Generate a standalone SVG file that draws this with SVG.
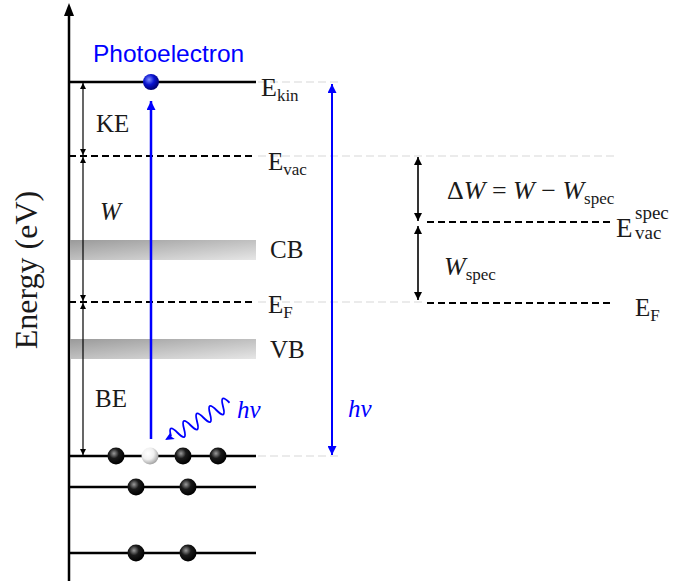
<svg xmlns="http://www.w3.org/2000/svg" width="678" height="585" viewBox="0 0 678 585">
<defs>
<style>
.lvl{stroke:#000;stroke-width:2.5;fill:none}
.dash{stroke:#000;stroke-width:2;stroke-dasharray:7 4;fill:none}
.ghost{stroke:#ebebeb;stroke-width:2;stroke-dasharray:8 4;fill:none}
.thin{stroke:#000;stroke-width:1.2;fill:none}
.blue{stroke:#0000ff;stroke-width:2.5;fill:none}
.t{font-family:"Liberation Serif","Times New Roman",serif;font-size:25px;fill:#1a1a1a}
.sub{font-size:17px}
.it{font-style:italic}
.bt{fill:#0000ff}
</style>
<linearGradient id="band" x1="0" y1="0" x2="1" y2="1">
<stop offset="0" stop-color="#9a9a9a"/>
<stop offset="1" stop-color="#e6e6e6"/>
</linearGradient>
<radialGradient id="blk" cx="0.38" cy="0.35" r="0.65">
<stop offset="0" stop-color="#9a9a9a"/>
<stop offset="0.45" stop-color="#1a1a1a"/>
<stop offset="1" stop-color="#000"/>
</radialGradient>
<radialGradient id="wht" cx="0.38" cy="0.35" r="0.7">
<stop offset="0" stop-color="#fff"/>
<stop offset="0.5" stop-color="#f0f0f0"/>
<stop offset="1" stop-color="#9a9a9a"/>
</radialGradient>
<radialGradient id="blu" cx="0.38" cy="0.35" r="0.65">
<stop offset="0" stop-color="#8090ff"/>
<stop offset="0.5" stop-color="#0a14d0"/>
<stop offset="1" stop-color="#000070"/>
</radialGradient>
<marker id="ak" viewBox="0 0 10 10" refX="10" refY="5" markerWidth="6" markerHeight="6" markerUnits="userSpaceOnUse" orient="auto-start-reverse">
<path d="M0,0 L10,5 L0,10 Z" fill="#000"/>
</marker>
<marker id="ak2" viewBox="0 0 10 10" refX="10" refY="5" markerWidth="8" markerHeight="8" markerUnits="userSpaceOnUse" orient="auto-start-reverse">
<path d="M0,0 L10,5 L0,10 Z" fill="#000"/>
</marker>
<marker id="ab" viewBox="0 0 10 10" refX="10" refY="5" markerWidth="11" markerHeight="9" markerUnits="userSpaceOnUse" orient="auto-start-reverse">
<path d="M0,0 L10,5 L0,10 Z" fill="#0000ff"/>
</marker>
</defs>

<!-- ghost guide lines -->
<g id="guides">
<line class="ghost" x1="258" y1="82" x2="342" y2="82"/>
<line class="ghost" x1="258" y1="156" x2="614" y2="156"/>
<line class="ghost" x1="258" y1="302" x2="424" y2="302"/>
<line class="ghost" x1="258" y1="456" x2="342" y2="456"/>
</g>

<!-- axis -->
<g id="axis">
<line x1="69" y1="14" x2="69" y2="581" stroke="#000" stroke-width="2.5"/>
<path d="M69,3 L74,16 L64,16 Z" fill="#000"/>
<text class="t" transform="translate(37,270) rotate(-90)" text-anchor="middle" style="font-size:32px">Energy (eV)</text>
</g>

<!-- bands -->
<g id="CB"><rect x="70" y="240" width="186" height="20" fill="url(#band)"/><text class="t" x="270" y="258">CB</text></g>
<g id="VB"><rect x="70" y="339" width="186" height="20" fill="url(#band)"/><text class="t" x="270" y="358">VB</text></g>

<!-- levels -->
<g id="Ekin"><line class="lvl" x1="69" y1="82" x2="256" y2="82"/><text class="t" x="261" y="96" style="font-size:26px">E<tspan class="sub" dy="5">kin</tspan></text></g>
<g id="Evac"><line class="dash" x1="69" y1="156" x2="256" y2="156"/><text class="t" x="268" y="170">E<tspan class="sub" dy="5">vac</tspan></text></g>
<g id="EF"><line class="dash" x1="69" y1="302" x2="256" y2="302"/><text class="t" x="268" y="313">E<tspan class="sub" dy="5">F</tspan></text></g>
<g id="core1"><line class="lvl" x1="69" y1="456" x2="256" y2="456"/>
<circle cx="116" cy="456" r="8.5" fill="url(#blk)"/>
<circle cx="150" cy="456" r="8.5" fill="url(#wht)"/>
<circle cx="183" cy="456" r="8.5" fill="url(#blk)"/>
<circle cx="218" cy="456" r="8.5" fill="url(#blk)"/></g>
<g id="core2"><line class="lvl" x1="69" y1="487" x2="256" y2="487"/>
<circle cx="136" cy="487" r="8.5" fill="url(#blk)"/>
<circle cx="188" cy="487" r="8.5" fill="url(#blk)"/></g>
<g id="core3"><line class="lvl" x1="69" y1="553" x2="256" y2="553"/>
<circle cx="136" cy="553" r="8.5" fill="url(#blk)"/>
<circle cx="188" cy="553" r="8.5" fill="url(#blk)"/></g>

<!-- photoelectron -->
<g id="photoelectron"><circle cx="151" cy="82" r="8" fill="url(#blu)"/>
<text x="93" y="62" style="font-family:'Liberation Sans',Arial,sans-serif;font-size:24.5px;fill:#0000ff">Photoelectron</text></g>

<!-- right side levels -->
<g id="Evacspec"><line class="dash" x1="427" y1="222" x2="613" y2="222"/>
<text class="t" x="616" y="237" style="font-size:27px">E</text>
<text class="t" x="635" y="219" style="font-size:19px">spec</text>
<text class="t" x="635" y="239" style="font-size:19px">vac</text></g>
<g id="EFspec"><line class="dash" x1="427" y1="303" x2="613" y2="303"/><text class="t" x="635" y="316">E<tspan class="sub" dy="5">F</tspan></text></g>

<!-- connectors -->
<g id="connectors">
<line class="thin" x1="83" y1="83" x2="83" y2="155" marker-start="url(#ak)" marker-end="url(#ak)"/>
<line class="thin" x1="83" y1="157" x2="83" y2="301" marker-start="url(#ak)" marker-end="url(#ak)"/>
<line class="thin" x1="83" y1="303" x2="83" y2="455" marker-start="url(#ak)" marker-end="url(#ak)"/>
<line x1="418" y1="157" x2="418" y2="221" stroke="#000" stroke-width="1.6" marker-start="url(#ak2)" marker-end="url(#ak2)"/>
<line x1="418" y1="226" x2="418" y2="300" stroke="#000" stroke-width="1.6" marker-start="url(#ak2)" marker-end="url(#ak2)"/>
<line class="blue" x1="151" y1="439" x2="151" y2="101" marker-end="url(#ab)"/>
<line x1="332" y1="84" x2="332" y2="455" stroke="#0000ff" stroke-width="2" marker-start="url(#ab)" marker-end="url(#ab)"/>
<g transform="translate(165,440) rotate(-30)">
<path d="M0,0 L9,-4 L7,0 L9,4 Z" fill="#0000ff"/>
<path d="M7,0 q3.75,-14 7.5,0 t7.5,0 t7.5,0 t7.5,0 t7.5,0 t7.5,0 t7.5,0 t7.5,0 t7.5,0" stroke="#0000ff" stroke-width="1.8" fill="none"/>
</g>
</g>

<!-- labels -->
<g id="labels">
<text class="t" x="96" y="132">KE</text>
<text class="t it" x="100" y="220">W</text>
<text class="t" x="95" y="407">BE</text>
<text class="t it bt" x="237" y="418">hv</text>
<text class="t it bt" x="348" y="417">hv</text>
<text class="t" x="447" y="199" style="font-size:26px">Δ<tspan class="it">W</tspan> = <tspan class="it">W</tspan> − <tspan class="it">W</tspan><tspan class="sub" dy="5">spec</tspan></text>
<text class="t" x="444" y="275" style="font-size:26px"><tspan class="it">W</tspan><tspan class="sub" dy="5">spec</tspan></text>
</g>
</svg>
